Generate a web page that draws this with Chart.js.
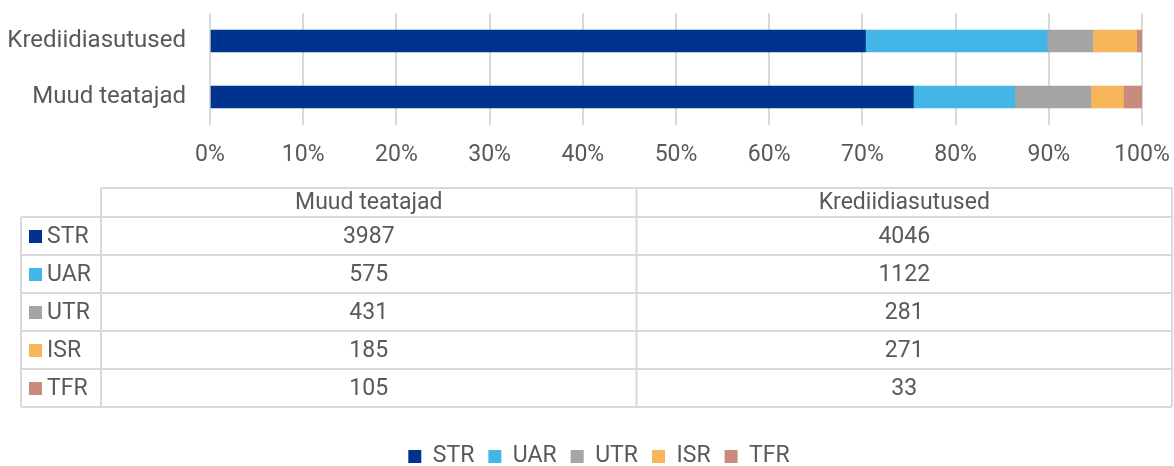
<!DOCTYPE html>
<html>
<head>
<meta charset="utf-8">
<script src="https://cdn.jsdelivr.net/npm/chart.js@4"></script>
<style>
  html, body { margin: 0; padding: 0; background: #fff; }
  #wrap { width: 1174px; height: 466px; }
</style>
</head>
<body>
<div id="wrap"><canvas id="reportChart" width="1174" height="466"></canvas></div>
<script>
const reporters = ['Krediidiasutused', 'Muud teatajad'];
const reportTypes = ['STR', 'UAR', 'UTR', 'ISR', 'TFR'];
const creditInstitutions = [4046, 1122, 281, 271, 33];
const otherReporters = [3987, 575, 431, 185, 105];
const typeColors = ['#00338D', '#43B5E6', '#A5A5A5', '#F8B65B', '#C78C7C'];

const textColor = '#595959';
const lineColor = '#D9D9D9';
const fontFamily = 'Roboto, "Open Sans", sans-serif';

const sumCI = creditInstitutions.reduce((a, b) => a + b, 0);
const sumOther = otherReporters.reduce((a, b) => a + b, 0);

const datasets = reportTypes.map((t, i) => ({
  label: t,
  data: [creditInstitutions[i] / sumCI * 100, otherReporters[i] / sumOther * 100],
  backgroundColor: typeColors[i],
  borderWidth: 0,
  barThickness: 22
}));

// table under the chart, columns in the original order: Muud, Krediid
const tableColumns = [
  { name: reporters[1], values: otherReporters },
  { name: reporters[0], values: creditInstitutions }
];

const tablePlugin = {
  id: 'dataTable',
  afterLayout(chart) {
    // legend sits lower and a bit more right than chart.js puts it
    chart.legend.top += 12;
    chart.legend.bottom += 12;
    chart.legend.left += 28;
    chart.legend.right += 28;
  },
  afterDraw(chart) {
    const ctx = chart.ctx;
    const left = 21, labelRight = 101, right = 1172;
    const headTop = 188, headBottom = 217, rowH = 38;
    const colW = (right - labelRight) / tableColumns.length;
    const bottom = headBottom + rowH * reportTypes.length;

    ctx.save();
    ctx.strokeStyle = lineColor;
    ctx.lineWidth = 2;

    ctx.beginPath();
    ctx.moveTo(labelRight, headTop); ctx.lineTo(right, headTop);
    for (let r = 0; r <= reportTypes.length; r++) {
      const y = headBottom + r * rowH;
      ctx.moveTo(left, y); ctx.lineTo(right, y);
    }
    ctx.moveTo(left, headBottom); ctx.lineTo(left, bottom);
    for (let c = 0; c <= tableColumns.length; c++) {
      const x = labelRight + c * colW;
      ctx.moveTo(x, headTop); ctx.lineTo(x, bottom);
    }
    ctx.stroke();

    ctx.fillStyle = textColor;
    ctx.font = '23px ' + fontFamily;
    ctx.textBaseline = 'middle';

    ctx.textAlign = 'center';
    tableColumns.forEach((col, c) => {
      ctx.fillText(col.name, labelRight + c * colW + colW / 2, (headTop + headBottom) / 2 + 1);
    });

    reportTypes.forEach((t, r) => {
      const yMid = headBottom + r * rowH + rowH / 2;
      ctx.fillStyle = typeColors[r];
      ctx.fillRect(29, yMid - 6, 13, 13);
      ctx.fillStyle = textColor;
      ctx.textAlign = 'left';
      ctx.fillText(t, 47, yMid + 1);
      ctx.textAlign = 'center';
      tableColumns.forEach((col, c) => {
        ctx.fillText(String(col.values[r]), labelRight + c * colW + colW / 2, yMid + 1);
      });
    });
    ctx.restore();
  }
};

new Chart(document.getElementById('reportChart'), {
  type: 'bar',
  data: { labels: reporters, datasets: datasets },
  options: {
    indexAxis: 'y',
    responsive: false,
    animation: false,
    layout: { padding: { top: 13, right: 32, left: 0, bottom: 0 } },
    scales: {
      x: {
        stacked: true,
        min: 0,
        max: 100,
        ticks: {
          stepSize: 10,
          padding: 16,
          color: textColor,
          font: { family: fontFamily, size: 23 },
          callback: v => v + '%'
        },
        grid: { color: lineColor, lineWidth: 2, drawTicks: false },
        border: { display: false },
        afterFit: scale => {
          scale.height = 294;
          scale.paddingLeft = 0;
          scale.paddingRight = 0;
        }
      },
      y: {
        stacked: true,
        ticks: {
          padding: 24,
          color: textColor,
          font: { family: fontFamily, size: 24 }
        },
        grid: { display: false, drawTicks: false },
        border: { display: false },
        afterFit: scale => {
          scale.width = 210;
          scale.paddingTop = 0;
          scale.paddingBottom = 0;
        }
      }
    },
    plugins: {
      legend: {
        position: 'bottom',
        labels: {
          boxWidth: 13,
          boxHeight: 13,
          padding: 14,
          color: textColor,
          font: { family: fontFamily, size: 23 }
        }
      },
      tooltip: { enabled: false }
    }
  },
  plugins: [tablePlugin]
});
</script>
</body>
</html>
